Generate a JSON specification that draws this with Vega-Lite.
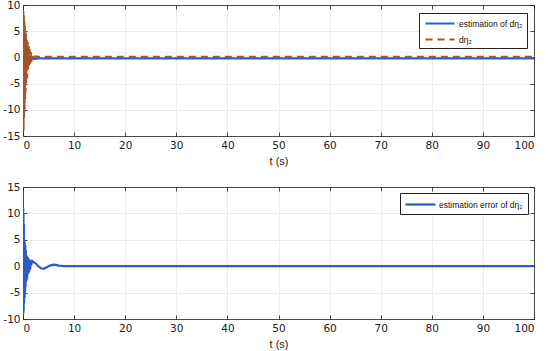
{
  "$schema": "https://vega.github.io/schema/vega-lite/v6.json",
  "padding": {"left": 2, "top": 0, "right": 7, "bottom": 1},
  "background": "white",
  "spacing": 16,
  "config": {
    "font": "Liberation Sans",
    "view": {"stroke": null},
    "axis": {
      "domainColor": "#222222", "domainWidth": 0.8,
      "tickColor": "#222222", "tickSize": -4, "tickWidth": 0.8,
      "labelFont": "DejaVu Sans", "labelFontSize": 10.5, "labelColor": "#222222",
      "labelExpr": "replace(datum.label, '\u2212', '-')",
      "titleFont": "Liberation Sans", "titleFontSize": 11, "titleFontWeight": "normal", "titleColor": "#222222",
      "gridColor": "#e3e3e3", "gridWidth": 0.7
    },
    "legend": {
      "orient": "none", "title": null, "fillColor": "white", "strokeColor": "#222222",
      "padding": 4, "labelFont": "Liberation Sans", "labelFontSize": 8.5, "labelColor": "#111111",
      "symbolSize": 100, "symbolStrokeWidth": 2.2, "rowPadding": 5
    }
  },
  "resolve": {"scale": {"color": "independent", "strokeDash": "independent"}, "legend": {"color": "independent", "strokeDash": "independent"}},
  "datasets": {
    "top": [
      {"t": 0, "v": 0, "s": "estimation of dη₂"},
      {"t": 0.5, "v": 0.5, "s": "estimation of dη₂"},
      {"t": 1, "v": -0.5, "s": "estimation of dη₂"},
      {"t": 1.5, "v": 0.3, "s": "estimation of dη₂"},
      {"t": 2, "v": -0.3, "s": "estimation of dη₂"},
      {"t": 3, "v": -0.2, "s": "estimation of dη₂"},
      {"t": 100, "v": -0.2, "s": "estimation of dη₂"},
      {"t": 0, "v": 0, "s": "dη₂"},
      {"t": 0.05, "v": 9, "s": "dη₂"},
      {"t": 0.1, "v": -14, "s": "dη₂"},
      {"t": 0.15, "v": 8.5, "s": "dη₂"},
      {"t": 0.2, "v": -12, "s": "dη₂"},
      {"t": 0.25, "v": 7, "s": "dη₂"},
      {"t": 0.3, "v": -10, "s": "dη₂"},
      {"t": 0.35, "v": 6, "s": "dη₂"},
      {"t": 0.4, "v": -8, "s": "dη₂"},
      {"t": 0.45, "v": 5, "s": "dη₂"},
      {"t": 0.5, "v": -6.5, "s": "dη₂"},
      {"t": 0.55, "v": 4.5, "s": "dη₂"},
      {"t": 0.6, "v": -5, "s": "dη₂"},
      {"t": 0.7, "v": 3.5, "s": "dη₂"},
      {"t": 0.8, "v": -4, "s": "dη₂"},
      {"t": 0.9, "v": 3, "s": "dη₂"},
      {"t": 1.0, "v": -2.5, "s": "dη₂"},
      {"t": 1.1, "v": 2.5, "s": "dη₂"},
      {"t": 1.2, "v": -1.8, "s": "dη₂"},
      {"t": 1.3, "v": 1.5, "s": "dη₂"},
      {"t": 1.4, "v": -1.2, "s": "dη₂"},
      {"t": 1.5, "v": 1, "s": "dη₂"},
      {"t": 1.6, "v": -0.8, "s": "dη₂"},
      {"t": 1.7, "v": 0.7, "s": "dη₂"},
      {"t": 1.8, "v": -0.5, "s": "dη₂"},
      {"t": 1.9, "v": 0.4, "s": "dη₂"},
      {"t": 2.0, "v": -0.2, "s": "dη₂"},
      {"t": 2.3, "v": 0.2, "s": "dη₂"},
      {"t": 3, "v": 0.1, "s": "dη₂"},
      {"t": 100, "v": 0.1, "s": "dη₂"}
    ],
    "bottom": [
      {"t": 0, "e": 0}, {"t": 0.03, "e": 11}, {"t": 0.06, "e": -9}, {"t": 0.1, "e": 10},
      {"t": 0.13, "e": -8.5}, {"t": 0.17, "e": 8}, {"t": 0.2, "e": -7}, {"t": 0.25, "e": 5},
      {"t": 0.3, "e": -6}, {"t": 0.35, "e": 4.5}, {"t": 0.4, "e": -5}, {"t": 0.45, "e": 4},
      {"t": 0.5, "e": -4}, {"t": 0.55, "e": 3}, {"t": 0.6, "e": -3}, {"t": 0.7, "e": 2},
      {"t": 0.8, "e": -2.5}, {"t": 0.9, "e": 1.8}, {"t": 1.0, "e": -1.5}, {"t": 1.1, "e": 1.5},
      {"t": 1.2, "e": -1.2}, {"t": 1.3, "e": 1.2}, {"t": 1.4, "e": -0.6}, {"t": 1.5, "e": 1},
      {"t": 1.6, "e": 0.2}, {"t": 1.8, "e": 1}, {"t": 2.0, "e": 0.8}, {"t": 2.5, "e": 0.5},
      {"t": 3, "e": 0}, {"t": 3.5, "e": -0.4}, {"t": 4, "e": -0.5}, {"t": 4.5, "e": -0.3},
      {"t": 5, "e": 0}, {"t": 5.5, "e": 0.2}, {"t": 6, "e": 0.3}, {"t": 6.5, "e": 0.25},
      {"t": 7, "e": 0.1}, {"t": 8, "e": 0}, {"t": 100, "e": 0}
    ]
  },
  "vconcat": [
    {
      "width": 511, "height": 131,
      "data": {"name": "top"},
      "resolve": {"axis": {"x": "independent", "y": "independent"}},
      "layer": [
        {
          "mark": {"type": "line", "strokeWidth": 2.2, "clip": true},
          "encoding": {
            "x": {"field": "t", "type": "quantitative", "scale": {"domain": [0, 100], "nice": false},
                  "axis": {"orient": "bottom", "title": "t (s)", "values": [0,10,20,30,40,50,60,70,80,90,100], "grid": true, "labelPadding": 8.5, "titlePadding": 4}},
            "y": {"field": "v", "type": "quantitative", "scale": {"domain": [-15, 10], "nice": false},
                  "axis": {"orient": "left", "title": null, "values": [-15,-10,-5,0,5,10], "grid": true, "labelPadding": 7}},
            "color": {"field": "s", "type": "nominal", "scale": {"domain": ["estimation of dη₂", "dη₂"], "range": ["#2f5cc4", "#a4542a"]},
                      "legend": {"legendX": 396, "legendY": 8, "symbolType": "M-0.8,0H5", "labelOffset": 23, "labelExpr": "datum.label + '   '"}},
            "strokeDash": {"field": "s", "type": "nominal", "scale": {"domain": ["estimation of dη₂", "dη₂"], "range": [[1, 0], [7, 5]]},
                      "legend": {"legendX": 396, "legendY": 8, "symbolType": "M-0.8,0H5", "labelOffset": 23, "labelExpr": "datum.label + '   '"}},
            "order": {"field": "t", "type": "quantitative"}
          }
        },
        {
          "mark": {"type": "line", "opacity": 0},
          "encoding": {
            "x": {"field": "t", "type": "quantitative", "axis": {"orient": "top", "title": null, "labels": false, "grid": false, "values": [0,10,20,30,40,50,60,70,80,90,100]}},
            "y": {"field": "v", "type": "quantitative", "axis": {"orient": "right", "title": null, "labels": false, "grid": false, "values": [-15,-10,-5,0,5,10]}}
          }
        }
      ]
    },
    {
      "width": 511, "height": 132,
      "data": {"name": "bottom"},
      "resolve": {"axis": {"x": "independent", "y": "independent"}},
      "layer": [
        {
          "mark": {"type": "line", "strokeWidth": 2.2, "clip": true},
          "encoding": {
            "x": {"field": "t", "type": "quantitative", "scale": {"domain": [0, 100], "nice": false},
                  "axis": {"orient": "bottom", "title": "t (s)", "values": [0,10,20,30,40,50,60,70,80,90,100], "grid": true, "labelPadding": 8.5, "titlePadding": 4}},
            "y": {"field": "e", "type": "quantitative", "scale": {"domain": [-10, 15], "nice": false},
                  "axis": {"orient": "left", "title": null, "values": [-10,-5,0,5,10,15], "grid": true, "labelPadding": 7}},
            "color": {"datum": "estimation error of dη₂", "type": "nominal", "scale": {"range": ["#2f5cc4"]},
                      "legend": {"legendX": 377, "legendY": 6, "symbolType": "M-1.2,0H4.8", "labelOffset": 21, "labelExpr": "datum.label + '  '", "padding": 5}},
            "order": {"field": "t", "type": "quantitative"}
          }
        },
        {
          "mark": {"type": "line", "opacity": 0},
          "encoding": {
            "x": {"field": "t", "type": "quantitative", "axis": {"orient": "top", "title": null, "labels": false, "grid": false, "values": [0,10,20,30,40,50,60,70,80,90,100]}},
            "y": {"field": "e", "type": "quantitative", "axis": {"orient": "right", "title": null, "labels": false, "grid": false, "values": [-10,-5,0,5,10,15]}}
          }
        }
      ]
    }
  ]
}
